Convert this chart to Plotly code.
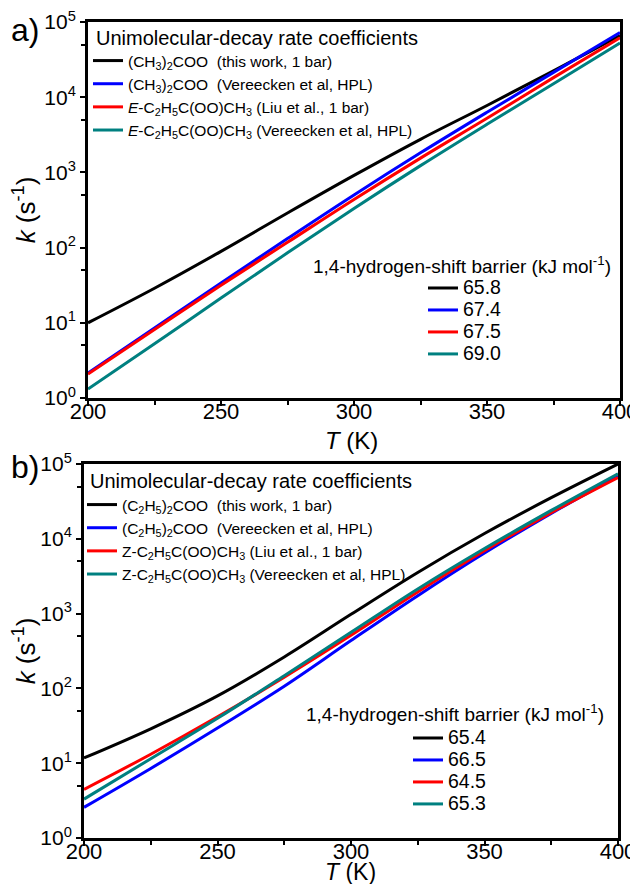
import plotly.graph_objects as go

FONT = "Arial, Liberation Sans, sans-serif"

T = [200, 225, 250, 275, 300, 325, 350, 375, 400]

# panel a: log10(k / s^-1)
a_black = [1.00, 1.46, 1.95, 2.46, 2.96, 3.44, 3.89, 4.35, 4.82]
a_blue = [0.33, 0.93, 1.53, 2.12, 2.70, 3.26, 3.80, 4.33, 4.86]
a_red = [0.32, 0.91, 1.50, 2.07, 2.64, 3.19, 3.72, 4.26, 4.79]
a_teal = [0.12, 0.72, 1.33, 1.93, 2.52, 3.09, 3.64, 4.18, 4.72]

# panel b
b_black = [1.07, 1.46, 1.90, 2.42, 2.99, 3.55, 4.07, 4.55, 5.00]
b_blue = [0.41, 0.93, 1.47, 2.03, 2.64, 3.24, 3.81, 4.34, 4.84]
b_red = [0.65, 1.12, 1.62, 2.15, 2.71, 3.29, 3.84, 4.35, 4.82]
b_teal = [0.52, 1.06, 1.60, 2.17, 2.75, 3.33, 3.87, 4.38, 4.87]

colors = ["#000000", "#0000ff", "#ff0000", "#008080"]

a_names = [
    "(CH<sub>3</sub>)<sub>2</sub>COO\u00a0\u00a0(this work, 1 bar)",
    "(CH<sub>3</sub>)<sub>2</sub>COO\u00a0\u00a0(Vereecken et al, HPL)",
    "<i>E</i>-C<sub>2</sub>H<sub>5</sub>C(OO)CH<sub>3</sub> (Liu et al., 1 bar)",
    "<i>E</i>-C<sub>2</sub>H<sub>5</sub>C(OO)CH<sub>3</sub> (Vereecken et al, HPL)",
]
b_names = [
    "(C<sub>2</sub>H<sub>5</sub>)<sub>2</sub>COO\u00a0\u00a0(this work, 1 bar)",
    "(C<sub>2</sub>H<sub>5</sub>)<sub>2</sub>COO\u00a0\u00a0(Vereecken et al, HPL)",
    "Z-C<sub>2</sub>H<sub>5</sub>C(OO)CH<sub>3</sub> (Liu et al., 1 bar)",
    "Z-C<sub>2</sub>H<sub>5</sub>C(OO)CH<sub>3</sub> (Vereecken et al, HPL)",
]
a_barriers = ["65.8", "67.4", "67.5", "69.0"]
b_barriers = ["65.4", "66.5", "64.5", "65.3"]

legend_title = "Unimolecular-decay rate coefficients"
barrier_title = "1,4-hydrogen-shift barrier (kJ mol<sup>-1</sup>)"
x_title = "<i>T</i> (K)"
y_title = "<i>k</i> (s<sup>-1</sup>)"

# page is offset by the 8px body margin of the html page
OFF = 8
W, H = 630, 876
fig = go.Figure()

def px_x(x):
    return (x - OFF) / W

def px_y(y):
    return 1 - (y - OFF) / H

a_series = [a_black, a_blue, a_red, a_teal]
b_series = [b_black, b_blue, b_red, b_teal]

def big(s):
    return '<span style="font-size:19.5px">%s</span>' % s

for i, s in enumerate(a_series):
    fig.add_trace(go.Scatter(x=T, y=[10 ** v for v in s], mode="lines",
                             line=dict(color=colors[i], width=3, shape="spline",
                                       smoothing=1.0),
                             name=a_names[i], legend="legend",
                             xaxis="x", yaxis="y"))
for i, lab in enumerate(a_barriers):
    fig.add_trace(go.Scatter(x=[None], y=[None], mode="lines",
                             line=dict(color=colors[i], width=3),
                             name=big(lab), legend="legend2", xaxis="x", yaxis="y"))
for i, s in enumerate(b_series):
    fig.add_trace(go.Scatter(x=T, y=[10 ** v for v in s], mode="lines",
                             line=dict(color=colors[i], width=3, shape="spline",
                                       smoothing=1.0),
                             name=b_names[i], legend="legend3",
                             xaxis="x2", yaxis="y2"))
for i, lab in enumerate(b_barriers):
    fig.add_trace(go.Scatter(x=[None], y=[None], mode="lines",
                             line=dict(color=colors[i], width=3),
                             name=big(lab), legend="legend4", xaxis="x2", yaxis="y2"))

ytickvals = [1, 10, 100, 1000, 10000, 100000]
yticktext = ["10<sup>%d</sup>" % i for i in range(6)]
yminor = [5, 50, 500, 5000, 50000]

def xaxis(domain, anchor):
    return dict(domain=domain, anchor=anchor, range=[200, 400],
                automargin=False, ticklabeloverflow="allow",
                ticklabelstandoff=-13,
                tickvals=[200, 250, 300, 350, 400], ticks="outside",
                ticklen=5, tickwidth=2, tickcolor="black",
                minor=dict(tickvals=[225, 275, 325, 375], ticks="outside",
                           ticklen=4, tickwidth=2, tickcolor="black"),
                showline=True, linewidth=3, linecolor="black", mirror=True,
                showgrid=False, zeroline=False,
                tickfont=dict(family=FONT, size=22, color="black"))

def yaxis(domain, anchor):
    return dict(domain=domain, anchor=anchor, type="log", range=[0, 5],
                automargin=False, ticklabeloverflow="allow",
                tickvals=ytickvals, ticktext=yticktext, ticks="outside",
                ticklen=5, tickwidth=2, tickcolor="black",
                minor=dict(tickvals=yminor, ticks="outside", ticklen=4,
                           tickwidth=2, tickcolor="black"),
                showline=True, linewidth=3, linecolor="black", mirror=True,
                showgrid=False, zeroline=False,
                tickfont=dict(family=FONT, size=21, color="black"),
                title=dict(text=y_title, standoff=2,
                           font=dict(family=FONT, size=26, color="black")))

top_dom = [px_y(398), px_y(22)]
bot_dom = [px_y(838), px_y(464)]

legend_common = dict(bgcolor="rgba(0,0,0,0)", borderwidth=0,
                     xanchor="left", yanchor="top", tracegroupgap=0,
                     itemwidth=30)
entry_font = dict(family=FONT, size=15.5, color="black")
num_font = dict(family=FONT, size=14.6, color="black")

def note(text, x, y, size, xanchor="left"):
    return dict(text=text, x=px_x(x), y=px_y(y), xref="paper", yref="paper",
                xanchor=xanchor, yanchor="middle", showarrow=False,
                font=dict(family=FONT, size=size, color="black"))

fig.update_layout(
    width=W, height=H, autosize=False,
    margin=dict(l=0, r=0, t=0, b=0),
    paper_bgcolor="white", plot_bgcolor="white",
    font=dict(family=FONT, color="black"),
    xaxis=xaxis([px_x(88), px_x(620)], "y"),
    yaxis=yaxis(top_dom, "x"),
    xaxis2=xaxis([px_x(84), px_x(618)], "y2"),
    yaxis2=yaxis(bot_dom, "x2"),
    legend=dict(x=px_x(88), y=px_y(44), font=entry_font, **legend_common),
    legend2=dict(x=px_x(423), y=px_y(272), font=num_font, **legend_common),
    legend3=dict(x=px_x(82), y=px_y(488), font=entry_font, **legend_common),
    legend4=dict(x=px_x(408), y=px_y(722), font=num_font, **legend_common),
    showlegend=True,
    annotations=[
        note("a)", 9, 30, 32),
        note("b)", 9, 467, 32),
        note(legend_title, 94, 38, 20),
        note(legend_title, 88, 481, 20),
        note(barrier_title, 613, 265, 19, "right"),
        note(barrier_title, 606, 713, 19, "right"),
        note(x_title, 352, 440, 24, "center"),
        note(x_title, 350, 872, 23, "center"),
    ],
)

fig.write_html("out.html")
